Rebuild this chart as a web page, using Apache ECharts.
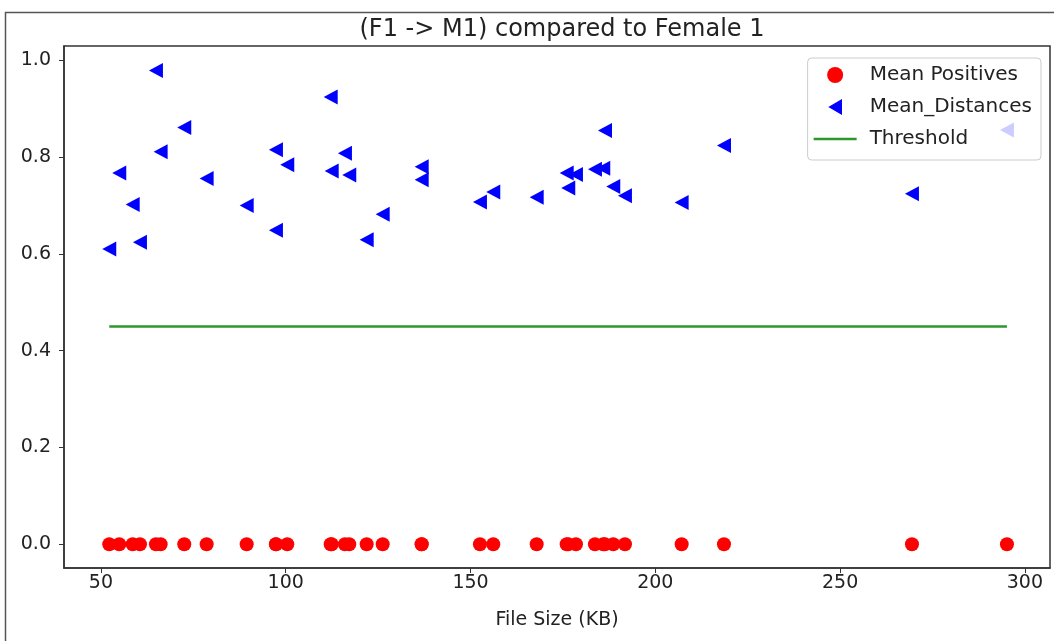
<!DOCTYPE html>
<html>
<head>
<meta charset="utf-8">
<script src="https://cdn.jsdelivr.net/npm/echarts@6/dist/echarts.min.js"></script>
<style>
html,body{margin:0;padding:0;background:#fff;}
#chart{width:1054px;height:641px;}
</style>
</head>
<body>
<div id="chart"></div>
<script>
// File sizes (KB) for each sample
var fileSizes = [52.25, 54.95, 58.58, 60.55, 64.88, 66.15, 72.54, 78.60, 89.43, 97.35,
  97.35, 100.41, 112.16, 112.43, 116.02, 117.19, 121.90, 126.23, 136.78, 136.78,
  152.55, 156.15, 167.90, 176.02, 176.45, 178.53, 183.67, 185.92, 186.38, 188.62,
  191.79, 207.13, 218.58, 269.45, 295.15];
// Mean distances (blue triangles)
var meanDistances = [0.610, 0.767, 0.702, 0.624, 0.979, 0.811, 0.861, 0.756, 0.700, 0.815,
  0.649, 0.784, 0.924, 0.771, 0.808, 0.763, 0.629, 0.682, 0.780, 0.753,
  0.707, 0.728, 0.717, 0.767, 0.736, 0.764, 0.775, 0.777, 0.855, 0.739,
  0.720, 0.706, 0.824, 0.724, 0.856];
// Mean positives (red dots)
var meanPositives = [0,0,0,0,0,0,0,0,0,0,0,0,0,0,0,0,0,0,0,0,0,0,0,0,0,0,0,0,0,0,0,0,0,0,0];
var thresholdValue = 0.45;
var xTicks = [50, 100, 150, 200, 250, 300];
var yTicks = [0, 0.2, 0.4, 0.6, 0.8, 1.0];

var posData = fileSizes.map(function (x, i) { return [x, meanPositives[i]]; });
var distData = fileSizes.map(function (x, i) { return [x, meanDistances[i]]; });
var xMin = Math.min.apply(null, fileSizes), xMax = Math.max.apply(null, fileSizes);
var thrData = [[xMin, thresholdValue], [xMax, thresholdValue]];

var FONT = 'DejaVu Sans';
var GREEN = '#2e962e';
var chart = echarts.init(document.getElementById('chart'));
chart.setOption({
  animation: false,
  backgroundColor: '#fff',
  title: {
    text: '(F1 -> M1) compared to Female 1',
    left: 557, top: 13, textAlign: 'center',
    textStyle: { fontFamily: FONT, fontSize: 24, fontWeight: 'normal', color: '#222' }
  },
  grid: { left: 64, right: 4, top: 46, bottom: 73, show: true, borderColor: '#333', borderWidth: 1.5, backgroundColor: 'transparent' },
  xAxis: {
    type: 'value', min: 40, max: 306.8,
    name: 'File Size (KB)', nameLocation: 'middle', nameGap: 43,
    nameTextStyle: { fontFamily: FONT, fontSize: 19, color: '#222' },
    splitLine: { show: false },
    axisLine: { show: true, onZero: false, lineStyle: { color: '#333', width: 1.5 } },
    axisTick: { show: true, length: 5, customValues: xTicks, lineStyle: { color: '#333' } },
    axisLabel: { customValues: xTicks, margin: 6, fontFamily: FONT, fontSize: 19, color: '#222' }
  },
  yAxis: {
    type: 'value', min: -0.049, max: 1.0295,
    splitLine: { show: false },
    axisLine: { show: true, onZero: false, lineStyle: { color: '#333', width: 1.5 } },
    axisTick: { show: true, length: 5, customValues: yTicks, lineStyle: { color: '#333' } },
    axisLabel: { customValues: yTicks, margin: 13, fontFamily: FONT, fontSize: 19, color: '#222',
      formatter: function (v) { return v.toFixed(1); } }
  },
  legend: {
    orient: 'vertical', right: 13, top: 58,
    backgroundColor: 'rgba(255,255,255,0.8)', borderColor: '#ccc', borderWidth: 1, borderRadius: 4,
    padding: [7, 9, 11, 6], itemGap: 12, itemWidth: 43, itemHeight: 16,
    symbolRotate: 0,
    textStyle: { fontFamily: FONT, fontSize: 20, color: '#222', padding: [0, 0, 0, 8] },
    data: [
      { name: 'Mean Positives', icon: 'circle' },
      { name: 'Mean_Distances', icon: 'path://M0,7 L12,0 L12,14 Z' },
      { name: 'Threshold', icon: 'path://M0,0 L43,0 L43,2.6 L0,2.6 Z' }
    ]
  },
  graphic: [{
    type: 'rect', left: 3, top: 10, silent: true, z: 100,
    shape: { width: 1200, height: 800 },
    style: { fill: 'none', stroke: '#555', lineWidth: 1.5 }
  }],
  series: [
    {
      name: 'Mean Positives', type: 'scatter', data: posData,
      symbol: 'circle', symbolSize: 14,
      itemStyle: { color: '#ff0000', opacity: 1 }, z: 2
    },
    {
      name: 'Mean_Distances', type: 'scatter', data: distData,
      symbol: 'triangle', symbolSize: [15, 14], symbolRotate: 90,
      itemStyle: { color: '#0000ff', opacity: 1 }, z: 3
    },
    {
      name: 'Threshold', type: 'line', data: thrData,
      symbol: 'none', itemStyle: { color: GREEN },
      lineStyle: { color: GREEN, width: 2.5 }, z: 4
    }
  ]
});
</script>
</body>
</html>
